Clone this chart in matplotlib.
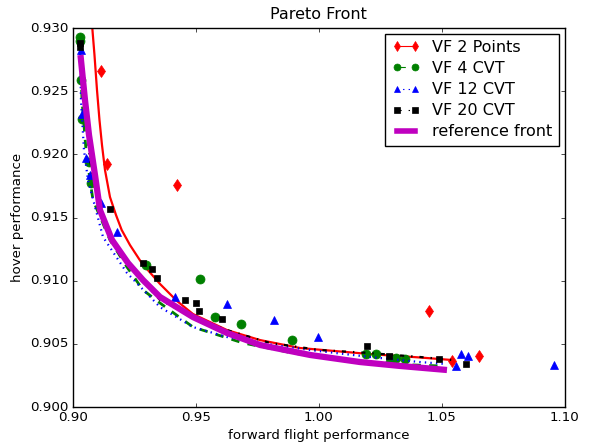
import numpy as np
import matplotlib
matplotlib.use('Agg')
import matplotlib.pyplot as plt
from matplotlib.lines import Line2D

plt.style.use('classic')

# fitted fronts
red_x = [0.90797, 0.90886, 0.90988, 0.91089, 0.91191, 0.91313, 0.91516, 0.91760, 0.91992,
         0.92329, 0.92805, 0.93549, 0.94240, 0.94890, 0.96272, 0.97614, 0.99240, 1.02085,
         1.04118, 1.05419]
red_y = [0.93000, 0.92786, 0.92509, 0.92272, 0.92074, 0.91876, 0.91662, 0.91520, 0.91401,
         0.91282, 0.91140, 0.90974, 0.90839, 0.90736, 0.90609, 0.90530, 0.90467, 0.90419,
         0.90392, 0.90372]

green_x = [0.90297, 0.90378, 0.90541, 0.90703, 0.90825, 0.91516, 0.92207, 0.92858, 0.93549,
           0.94890, 0.96923, 0.98955, 1.00866, 1.02898, 1.04931]
green_y = [0.92905, 0.92430, 0.92034, 0.91797, 0.91638, 0.91322, 0.91108, 0.90926, 0.90823,
           0.90633, 0.90507, 0.90427, 0.90372, 0.90340, 0.90325]

blue_x = [0.90297, 0.90337, 0.90459, 0.90622, 0.91232, 0.92207, 0.93549, 0.94890, 0.96272,
          0.97614, 0.99646, 1.02085, 1.04118, 1.05215]
blue_y = [0.92842, 0.92430, 0.92034, 0.91797, 0.91346, 0.91061, 0.90791, 0.90633, 0.90554,
          0.90507, 0.90451, 0.90396, 0.90356, 0.90340]

black_x = [0.90317, 0.90459, 0.90703, 0.91110, 0.91923, 0.93549, 0.94890, 0.96272, 0.98020,
           1.00053, 1.02085, 1.04118, 1.05419]
black_y = [0.92865, 0.92430, 0.91955, 0.91559, 0.91203, 0.90847, 0.90712, 0.90609, 0.90507,
           0.90451, 0.90427, 0.90396, 0.90372]

ref_x = [0.90317, 0.90500, 0.90663, 0.90907, 0.91110, 0.91598, 0.92248, 0.92858, 0.93549,
         0.94890, 0.96272, 0.97614, 0.99646, 1.01679, 1.03305, 1.05215]
ref_y = [0.92786, 0.92430, 0.92153, 0.91836, 0.91559, 0.91322, 0.91140, 0.91005, 0.90871,
         0.90712, 0.90586, 0.90491, 0.90412, 0.90356, 0.90325, 0.90293]

# sample points
p2_x = [0.91171, 0.91407, 0.94240, 1.04484, 1.05419, 1.06516]
p2_y = [0.92660, 0.91921, 0.91757, 0.90760, 0.90364, 0.90404]

p4_x = [0.90317, 0.90317, 0.90337, 0.90378, 0.90650, 0.90744, 0.92980, 0.95175, 0.95785,
        0.96841, 0.98915, 1.01923, 1.02350, 1.02919, 1.03142, 1.03508]
p4_y = [0.92929, 0.92897, 0.92588, 0.92280, 0.91939, 0.91773, 0.91124, 0.91013, 0.90712,
        0.90657, 0.90530, 0.90419, 0.90419, 0.90356, 0.90388, 0.90380]

p12_x = [0.90325, 0.90378, 0.90553, 0.90691, 0.91150, 0.91789, 0.94159, 0.96260, 0.98183,
         0.99984, 1.05569, 1.05772, 1.06081, 1.09565]
p12_y = [0.92826, 0.92319, 0.91971, 0.91836, 0.91615, 0.91385, 0.90871, 0.90815, 0.90689,
         0.90554, 0.90328, 0.90419, 0.90404, 0.90332]

p20_x = [0.90317, 0.90317, 0.91528, 0.92870, 0.93236, 0.93415, 0.94565, 0.95000, 0.95146,
         0.96057, 1.01951, 1.02870, 1.04902, 1.05976]
p20_y = [0.92881, 0.92850, 0.91567, 0.91140, 0.91092, 0.91021, 0.90847, 0.90823, 0.90760,
         0.90697, 0.90483, 0.90404, 0.90380, 0.90340]

labels = ['VF 2 Points', 'VF 4 CVT', 'VF 12 CVT', 'VF 20 CVT', 'reference front']

fig = plt.figure(figsize=(5.9, 4.48), dpi=100, facecolor='white')
ax = fig.add_axes([0.1232, 0.0915, 0.8339, 0.846])

ax.plot(red_x, red_y, 'r-', lw=1.6)
ax.plot(p2_x, p2_y, 'rd', ms=6, mec='r')
ax.plot(green_x, green_y, 'g--', lw=2)
ax.plot(p4_x, p4_y, 'go', ms=6.5, mec='g')
ax.plot(blue_x, blue_y, 'b:', lw=1.6)
ax.plot(p12_x, p12_y, 'b^', ms=6, mec='b')
ax.plot(black_x, black_y, 'k-.', lw=1.6)
ax.plot(p20_x, p20_y, 'ks', ms=5, mec='k')
ax.plot(ref_x, ref_y, 'm-', lw=4.5, solid_capstyle='butt')

handles = [
    Line2D([], [], color='r', ls='-', lw=0.8, marker='d', mec='r', ms=5),
    Line2D([], [], color='g', ls='--', lw=0.8, marker='o', mec='g', ms=5),
    Line2D([], [], color='b', ls=':', lw=0.8, marker='^', mec='b', ms=5),
    Line2D([], [], color='k', ls='-.', lw=0.8, marker='s', mec='k', ms=4.5),
    Line2D([], [], color='m', ls='-', lw=4),
]
ax.legend(handles, labels, loc='upper right', numpoints=2, fontsize=11.5,
          handlelength=1.75, handletextpad=0.8, labelspacing=0.38,
          borderaxespad=0.35, borderpad=0.4)

ax.set_xlim(0.90, 1.10)
ax.set_ylim(0.900, 0.930)
ax.set_xticks([0.90, 0.95, 1.00, 1.05, 1.10])
ax.set_yticks([0.900, 0.905, 0.910, 0.915, 0.920, 0.925, 0.930])
ax.set_xticklabels(['0.90', '0.95', '1.00', '1.05', '1.10'])
ax.set_yticklabels(['0.900', '0.905', '0.910', '0.915', '0.920', '0.925', '0.930'])
ax.tick_params(labelsize=9.6, pad=3.2, length=3.2)
ax.set_xlabel('forward flight performance', fontsize=9.6, labelpad=3)
ax.set_ylabel('hover performance', fontsize=9.6, labelpad=4)
ax.set_title('Pareto Front', fontsize=11.5, y=1.005)

fig.savefig('out.png', dpi=100, facecolor='white')
